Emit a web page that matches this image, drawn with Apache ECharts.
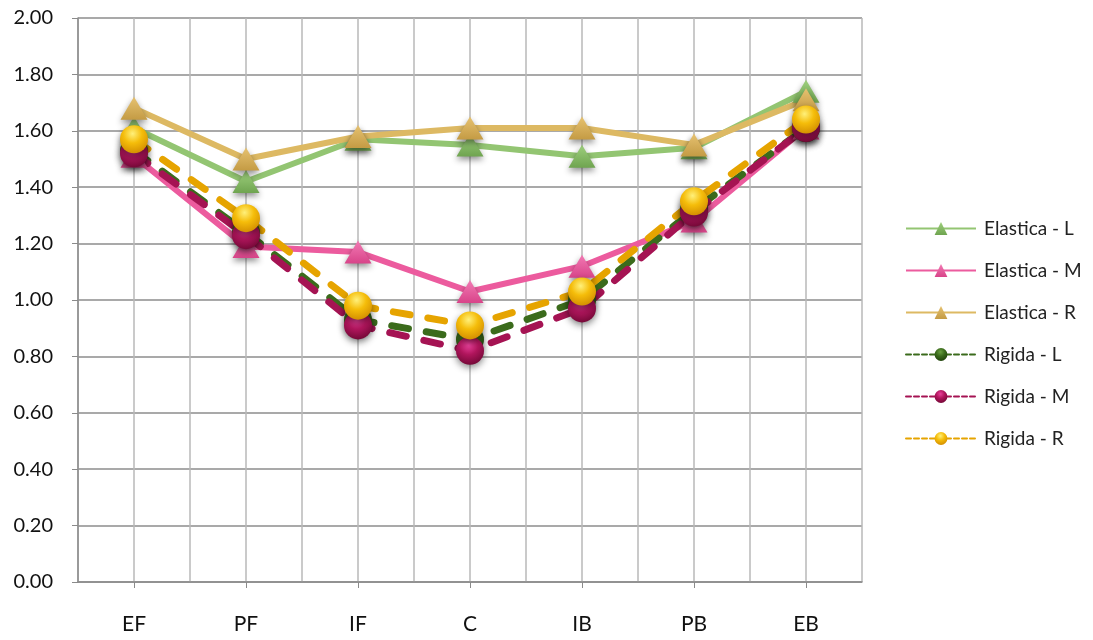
<!DOCTYPE html>
<html>
<head>
<meta charset="utf-8">
<script src="https://cdn.jsdelivr.net/npm/echarts@6/dist/echarts.min.js"></script>
<style>
  html, body { margin: 0; padding: 0; background: #fff; }
  #chartdiv { width: 1093px; height: 640px; }
</style>
</head>
<body>
<div id="chartdiv"></div>
<script>
const categories = ["EF", "PF", "IF", "C", "IB", "PB", "EB"];
const yTicks = [0, 0.2, 0.4, 0.6, 0.8, 1.0, 1.2, 1.4, 1.6, 1.8, 2.0];

const elasticaL = [1.61, 1.42, 1.57, 1.55, 1.51, 1.54, 1.74];
const elasticaM = [1.51, 1.19, 1.17, 1.03, 1.12, 1.28, 1.61];
const elasticaR = [1.68, 1.50, 1.58, 1.61, 1.61, 1.55, 1.71];
const rigidaL = [1.53, 1.24, 0.93, 0.86, 1.00, 1.32, 1.61];
const rigidaM = [1.52, 1.23, 0.91, 0.82, 0.97, 1.31, 1.61];
const rigidaR = [1.57, 1.29, 0.98, 0.91, 1.03, 1.35, 1.64];

const FONT = "Lato, 'Open Sans', sans-serif";

function triGrad(top, bottom) {
  return new echarts.graphic.LinearGradient(0, 0, 0, 1, [
    { offset: 0, color: top },
    { offset: 1, color: bottom }
  ]);
}

function ballGrad(light, mid, dark) {
  return new echarts.graphic.RadialGradient(0.45, 0.3, 0.75, [
    { offset: 0, color: light },
    { offset: 0.45, color: mid },
    { offset: 1, color: dark }
  ]);
}

function elastica(name, data, lineColor, top, bottom) {
  return {
    name: name,
    type: 'line',
    data: data,
    symbol: 'triangle',
    symbolSize: [27, 23],
    lineStyle: { color: lineColor, width: 6 },
    itemStyle: {
      color: triGrad(top, bottom),
      shadowBlur: 6,
      shadowOffsetY: 3,
      shadowColor: 'rgba(0,0,0,0.45)'
    },
    emphasis: { disabled: true }
  };
}

function rigida(name, data, lineColor, light, mid, dark) {
  return {
    name: name,
    type: 'line',
    data: data,
    symbol: 'circle',
    symbolSize: 28,
    lineStyle: { color: lineColor, width: 7, type: [17, 18], cap: 'round' },
    itemStyle: {
      color: ballGrad(light, mid, dark),
      shadowBlur: 7,
      shadowOffsetY: 3,
      shadowColor: 'rgba(0,0,0,0.45)'
    },
    emphasis: { disabled: true }
  };
}

// legend icons: solid thin line for Elastica, fine dashes for Rigida
const legendItems = [
  { name: "Elastica - L" },
  { name: "Elastica - M" },
  { name: "Elastica - R" },
  { name: "Rigida - L", lineStyle: { type: [5, 3], width: 2 } },
  { name: "Rigida - M", lineStyle: { type: [5, 3], width: 2 } },
  { name: "Rigida - R", lineStyle: { type: [5, 3], width: 2 } }
];

const chart = echarts.init(document.getElementById('chartdiv'));

chart.setOption({
  animation: false,
  textStyle: { fontFamily: FONT },
  grid: { left: 78, right: 231, top: 18, bottom: 58, containLabel: false },
  legend: {
    orient: 'vertical',
    left: 905,
    top: 219,
    padding: 0,
    itemWidth: 70,
    itemHeight: 16,
    itemGap: 23,
    lineStyle: { width: 2 },
    textStyle: { fontSize: 19, lineHeight: 16, color: '#222', fontFamily: FONT, padding: [0, 0, 0, 3] },
    data: legendItems
  },
  xAxis: [
    {
      type: 'category',
      data: categories,
      boundaryGap: true,
      axisLine: { show: true, lineStyle: { color: '#8a8a8a', width: 1.5 } },
      axisTick: { show: true, alignWithLabel: true, length: 6, lineStyle: { color: '#8a8a8a' } },
      axisLabel: { fontSize: 21, color: '#111', margin: 32, fontFamily: FONT },
      splitLine: { show: false }
    },
    {
      type: 'value',
      min: 0,
      max: categories.length * 2,
      interval: 1,
      show: true,
      position: 'bottom',
      axisLine: { show: false },
      axisTick: { show: false },
      axisLabel: { show: false },
      splitLine: { show: true, lineStyle: { color: '#b8b8b8', width: 1.5 } }
    }
  ],
  yAxis: {
    type: 'value',
    min: yTicks[0],
    max: yTicks[yTicks.length - 1],
    interval: 0.2,
    axisLine: { show: true, lineStyle: { color: '#8a8a8a', width: 1.5 } },
    axisTick: { show: true, length: 6, lineStyle: { color: '#8a8a8a' } },
    axisLabel: {
      fontSize: 20,
      color: '#111',
      margin: 25,
      fontFamily: FONT,
      formatter: v => v.toFixed(2)
    },
    splitLine: { show: true, lineStyle: { color: '#8c8c8c', width: 1.5 } }
  },
  series: [
    elastica("Elastica - L", elasticaL, '#93c572', '#9fd07e', '#6fa450'),
    elastica("Elastica - M", elasticaM, '#ec5b9e', '#f27ab4', '#d84489'),
    elastica("Elastica - R", elasticaR, '#ddb963', '#e6c271', '#c49b44'),
    rigida("Rigida - L", rigidaL, '#3b6b1c', '#6aa040', '#3b6b1c', '#1c3d08'),
    rigida("Rigida - M", rigidaM, '#a51353', '#e8409a', '#b0155c', '#6e0733'),
    rigida("Rigida - R", rigidaR, '#e6a400', '#fff07a', '#f5bd0a', '#d08a00')
  ]
});
</script>
</body>
</html>
